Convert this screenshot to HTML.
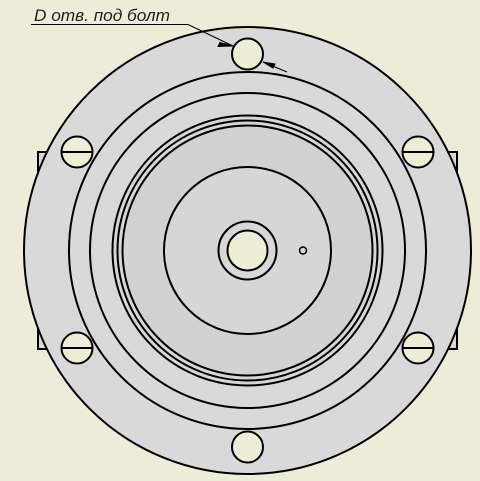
<!DOCTYPE html>
<html><head><meta charset="utf-8"><style>
html,body{margin:0;padding:0;background:#ECECD9;}
svg{display:block}
</style></head><body>
<svg width="480" height="481" viewBox="0 0 480 481">
<rect width="480" height="481" fill="#ECECD9"/>
<g stroke="#000" stroke-width="2">
<rect x="38" y="152" width="12" height="197" fill="#d8d8d8"/>
<rect x="445" y="152" width="12" height="197" fill="#d8d8d8"/>
<circle cx="247.5" cy="250.5" r="223.5" fill="#d9d9d9"/>
<circle cx="247.5" cy="250.5" r="178.5" fill="none"/>
<circle cx="247.5" cy="250.5" r="157.5" fill="none"/>
<circle cx="247.5" cy="250.5" r="135" fill="#d6d6d6"/>
<circle cx="247.5" cy="250.5" r="130" fill="none"/>
<circle cx="247.5" cy="250.5" r="125" fill="#d2d2d2"/>
<circle cx="247.5" cy="250.5" r="83.5" fill="#d6d6d6"/>
<circle cx="247.5" cy="250.5" r="29" fill="#d8d8d8"/>
<circle cx="247.5" cy="250.5" r="20" fill="#EEEED6"/>
<circle cx="303" cy="250.5" r="3.5" fill="none" stroke-width="1.5"/>
<g fill="#EEEED6">
<circle cx="247.5" cy="54" r="15.5"/>
<circle cx="247.5" cy="447" r="15.5"/>
<circle cx="77" cy="152" r="15.5"/>
<circle cx="418" cy="152" r="15.5"/>
<circle cx="77" cy="348" r="15.5"/>
<circle cx="418" cy="348" r="15.5"/>
</g>
<line x1="61.5" y1="152" x2="92.5" y2="152"/>
<line x1="61.5" y1="348" x2="92.5" y2="348"/>
<line x1="402.5" y1="152" x2="433.5" y2="152"/>
<line x1="402.5" y1="348" x2="433.5" y2="348"/>
</g>
<g stroke="#000" stroke-width="1" fill="#000">
<line x1="31" y1="24.5" x2="188" y2="24.5"/>
<line x1="188" y1="24.5" x2="233" y2="46"/>
<polygon points="233,46 220,42.5 218,46.5"/>
<line x1="263" y1="62" x2="287" y2="72"/>
<polygon points="263,62 275,64 273,68"/>
</g>
<text x="34" y="21" font-family="Liberation Sans, DejaVu Sans, sans-serif" font-size="17" font-style="italic" fill="#222" textLength="136" lengthAdjust="spacingAndGlyphs">D отв. под болт</text>
</svg>
</body></html>
